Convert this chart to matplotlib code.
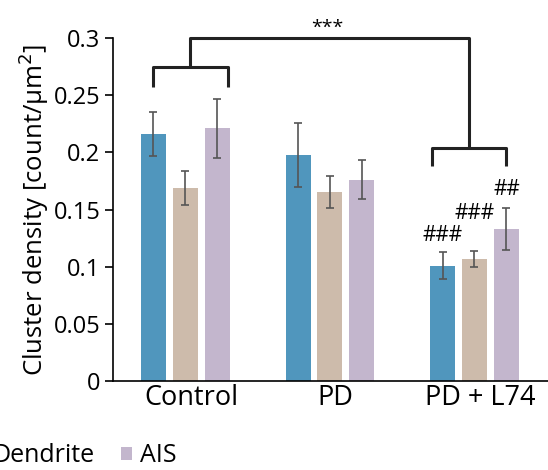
import numpy as np
import matplotlib.pyplot as plt

plt.rcParams['font.family'] = ['Open Sans', 'DejaVu Sans']

groups = ['Control', 'PD', 'PD + L74']
series = ['Soma', 'Dendrite', 'AIS']
soma = [0.216, 0.198, 0.101]
dendrite = [0.169, 0.165, 0.107]
ais = [0.221, 0.176, 0.133]
soma_err = [0.019, 0.028, 0.012]
dendrite_err = [0.015, 0.014, 0.007]
ais_err = [0.026, 0.017, 0.018]
marks = ['###', '###', '##']   # on PD + L74 bars

colors = ['#5096bd', '#cdbbab', '#c3b6cd']

fig = plt.figure(figsize=(5.48, 4.70), dpi=100)
ax = fig.add_axes([0.206, 0.189, 0.794, 0.730])

x = np.arange(len(groups))
w = 0.173
step = 0.221
vals = [soma, dendrite, ais]
errs = [soma_err, dendrite_err, ais_err]
for i in range(3):
    ax.bar(x + (i - 1) * step, vals[i], w, color=colors[i], label=series[i],
           yerr=errs[i], ecolor='#555555', capsize=3,
           error_kw=dict(elinewidth=1.2, capthick=1.2))

# ### marks above PD + L74 bars
ys = [0.127, 0.147, 0.168]
for i in range(3):
    ax.text(2 + (i - 1) * step, ys[i], marks[i], ha='center', va='center', fontsize=15)

# brackets
kw = dict(color='#222222', lw=2.2, clip_on=False, solid_capstyle='butt')
ax.plot([-0.225, -0.225, 0.294, 0.294], [0.257, 0.275, 0.275, 0.257], **kw)
ax.plot([0.031, 0.031, 1.96, 1.96], [0.275, 0.300, 0.300, 0.2035], **kw)
ax.plot([1.706, 1.706, 2.218, 2.218], [0.188, 0.2035, 0.2035, 0.188], **kw)
ax.text(0.985, 0.309, '***', ha='center', va='center', fontsize=14)

ax.set_xlim(-0.502, 2.509)
ax.set_ylim(0, 0.3)
ax.set_yticks([0, 0.05, 0.1, 0.15, 0.2, 0.25, 0.3])
ax.set_yticklabels(['0', '0.05', '0.1', '0.15', '0.2', '0.25', '0.3'], fontsize=17)
ax.set_xticks(x + 0.04)
ax.set_xticklabels(groups, fontsize=19.5)
ax.tick_params(axis='x', length=0, pad=2)
ax.tick_params(axis='y', length=6, width=1.2, pad=3)
ax.spines['top'].set_visible(False)
ax.spines['right'].set_visible(False)
ax.spines['left'].set_linewidth(1.2)
ax.spines['bottom'].set_linewidth(1.2)
ax.set_ylabel('Cluster density [count/μm$^2$]', fontsize=18.5, labelpad=2)

fig.legend(loc='upper right', bbox_to_anchor=(0.322, 0.057), ncol=3, frameon=False,
           fontsize=18, handlelength=0.45, handleheight=0.45, handletextpad=0.3,
           columnspacing=1.05, borderpad=0, borderaxespad=0)

fig.savefig('out.png', dpi=100)
